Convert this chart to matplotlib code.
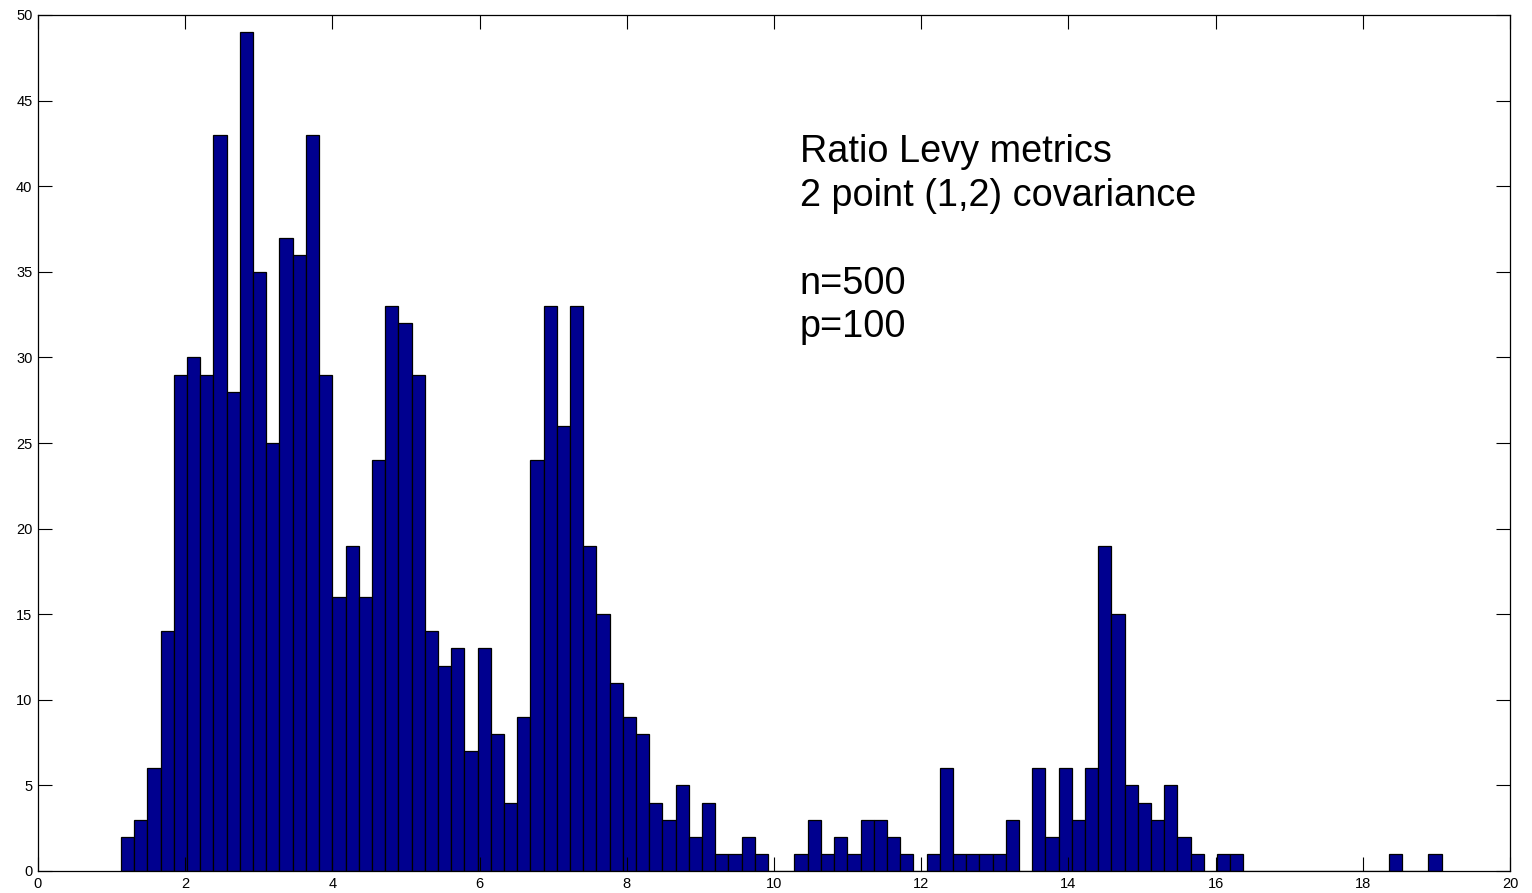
import numpy as np
import matplotlib.pyplot as plt

# histogram of 100 equal bins between these limits
bin_lo = 1.128
bin_hi = 19.07
counts = [2, 3, 6, 14, 29, 30, 29, 43, 28, 49,
          35, 25, 37, 36, 43, 29, 16, 19, 16, 24,
          33, 32, 29, 14, 12, 13, 7, 13, 8, 4,
          9, 24, 33, 26, 33, 19, 15, 11, 9, 8,
          4, 3, 5, 2, 4, 1, 1, 2, 1, 0,
          0, 1, 3, 1, 2, 1, 3, 3, 2, 1,
          0, 1, 6, 1, 1, 1, 1, 3, 0, 6,
          2, 6, 3, 6, 19, 15, 5, 4, 3, 5,
          2, 1, 0, 1, 1, 0, 0, 0, 0, 0,
          0, 0, 0, 0, 0, 0, 1, 0, 0, 1]
xticks = list(range(0, 21, 2))
yticks = list(range(0, 51, 5))
note = "Ratio Levy metrics\n2 point (1,2) covariance\n\nn=500\np=100"

plt.rcParams["font.family"] = ["Liberation Sans", "DejaVu Sans"]

edges = np.linspace(bin_lo, bin_hi, len(counts) + 1)
fig = plt.figure(figsize=(15.32, 8.93), dpi=100)
ax = fig.add_axes([38 / 1532, 1 - 871 / 893, (1510 - 38) / 1532, (871 - 15) / 893])
ax.hist(edges[:-1], bins=edges, weights=counts, color="#00008f",
        edgecolor="black", linewidth=0.9)

ax.set_xlim(0, 20)
ax.set_ylim(0, 50)
ax.set_xticks(xticks)
ax.set_yticks(yticks)
ax.tick_params(direction="in", length=10, width=0.8, labelsize=10.5,
               top=True, right=True, pad=4)
for s in ax.spines.values():
    s.set_linewidth(0.9)

ax.text(10.35, 43.05, note, fontsize=27.3, va="top", ha="left", linespacing=1.28)

plt.savefig("out.png", dpi=100)
